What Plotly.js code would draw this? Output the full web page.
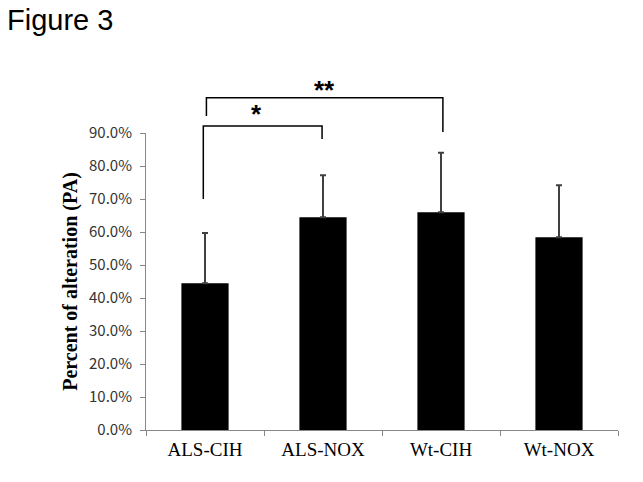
<!DOCTYPE html>
<html>
<head>
<meta charset="utf-8">
<script src="https://cdn.plot.ly/plotly-3.0.1.min.js"></script>
<style>html,body{margin:0;padding:0;background:#fff;}#chart{width:643px;height:482px;}</style>
</head>
<body>
<div id="chart"></div>
<script>
const categories = ["ALS-CIH", "ALS-NOX", "Wt-CIH", "Wt-NOX"];
const meanPA = [0.445, 0.645, 0.66, 0.584];
const errPA = [0.152, 0.127, 0.18, 0.158];
const yTickVals = [0, 0.1, 0.2, 0.3, 0.4, 0.5, 0.6, 0.7, 0.8, 0.9];

const trace = {
  type: 'bar',
  x: categories,
  y: meanPA,
  marker: {color: '#000000'},
  error_y: {
    type: 'data',
    symmetric: false,
    array: errPA,
    arrayminus: errPA.map(() => 0),
    color: '#404040',
    thickness: 2,
    width: 3
  },
  hoverinfo: 'none'
};

function bracket(x0, x1, yl, yr, ytop) {
  return {
    type: 'path', xref: 'paper', yref: 'paper',
    path: `M ${x0} ${yl} L ${x0} ${ytop} L ${x1} ${ytop} L ${x1} ${yr}`,
    line: {color: '#000', width: 1.5}
  };
}

const layout = {
  width: 643, height: 482,
  margin: {l: 146, r: 25, t: 133, b: 52},
  paper_bgcolor: '#fff', plot_bgcolor: '#fff',
  showlegend: false,
  bargap: 0.6,
  xaxis: {
    type: 'category',
    showline: true, linecolor: '#888', linewidth: 1,
    ticks: 'outside', ticklen: 5, tickcolor: '#888',
    tickson: 'boundaries',
    showgrid: false, zeroline: false,
    tickfont: {family: 'Liberation Serif', size: 19, color: '#000'},
    ticklabelstandoff: 2
  },
  yaxis: {
    range: [0, 0.9],
    tickvals: yTickVals,
    tickformat: '.1%',
    showline: true, linecolor: '#888', linewidth: 1,
    ticks: 'outside', ticklen: 5, tickcolor: '#888',
    showgrid: false, zeroline: false,
    tickfont: {family: 'Noto Sans CJK KR', size: 15, color: '#333'},
    ticklabelstandoff: 5,
    title: {text: 'Percent of alteration (PA)', font: {family: 'Liberation Serif', size: 20, color: '#000', weight: 'bold'}, standoff: 6}
  },
  shapes: [
    bracket(0.1214, 0.373, 0.778, 0.98, 1.0236),
    bracket(0.128, 0.629, 1.057, 1.003, 1.119)
  ],
  annotations: [
    {text: 'Figure 3', xref: 'paper', yref: 'paper', x: -0.298, y: 1.38, xanchor: 'left', yanchor: 'middle', showarrow: false, font: {family: 'Liberation Sans', size: 29, color: '#000'}},
    {text: '*', xref: 'paper', yref: 'paper', x: 0.2345, y: 1.065, xanchor: 'center', yanchor: 'middle', showarrow: false, font: {family: 'Liberation Sans', size: 26, color: '#000', weight: 'bold'}},
    {text: '**', xref: 'paper', yref: 'paper', x: 0.379, y: 1.145, xanchor: 'center', yanchor: 'middle', showarrow: false, font: {family: 'Liberation Sans', size: 26, color: '#000', weight: 'bold'}}
  ]
};

Plotly.newPlot('chart', [trace], layout, {staticPlot: true, displayModeBar: false});
</script>
</body>
</html>
